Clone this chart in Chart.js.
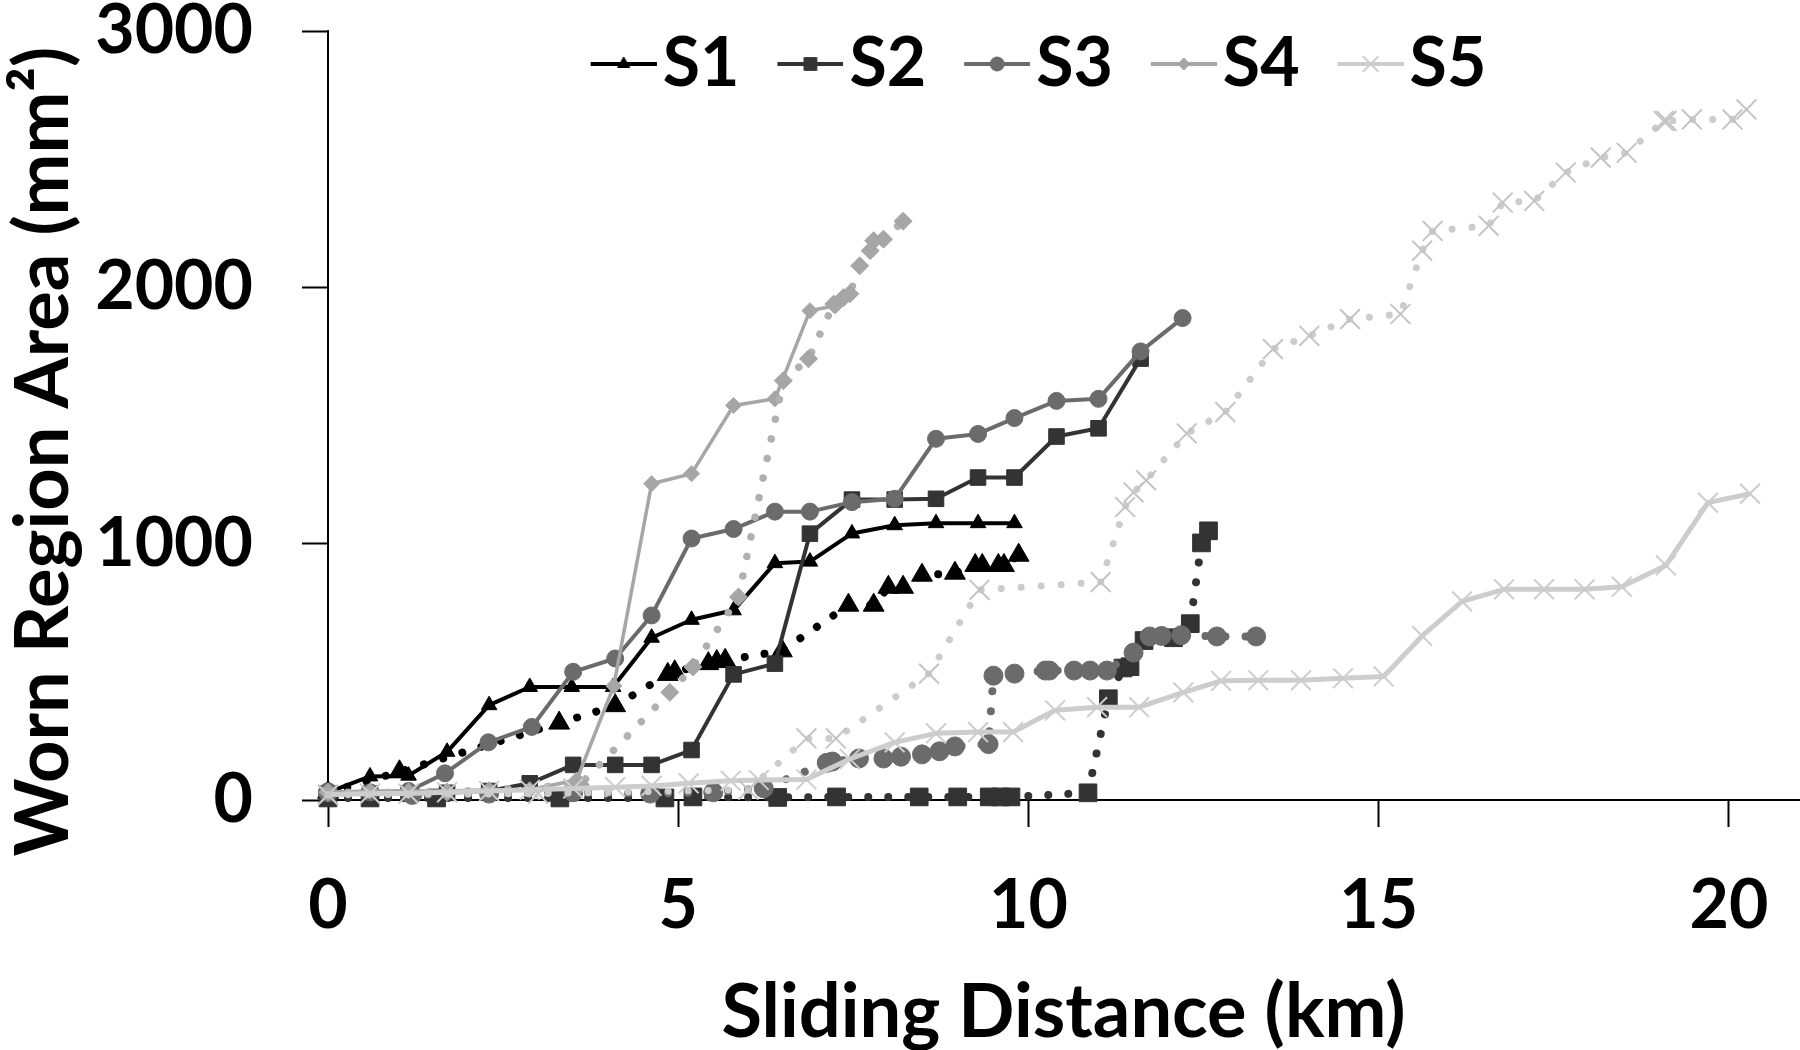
<!DOCTYPE html>
<html>
<head>
<meta charset="utf-8">
<script src="https://cdn.jsdelivr.net/npm/chart.js@4.4.0/dist/chart.umd.min.js"></script>
<style>
  html, body { margin: 0; padding: 0; background: #fff; }
</style>
</head>
<body>
<canvas id="myChart" width="1800" height="1050"></canvas>
<script>
// values (km, mm2)
var s1X = [0, 0.6, 1.15, 1.7, 2.3, 2.88, 3.48, 4.07, 4.62, 5.19, 5.79, 6.38, 6.88, 7.48, 8.09, 8.68, 9.28, 9.8];
var s1Y = [30, 92, 95, 188, 370, 441, 441, 441, 633, 703, 740, 924, 930, 1040, 1072, 1080, 1080, 1080];
var s1dX = [0, 1.02, 3.3, 4.1, 4.85, 4.95, 5.43, 5.55, 5.67, 6.48, 7.43, 7.79, 8.0, 8.21, 8.48, 8.95, 9.24, 9.34, 9.57, 9.65, 9.86];
var s1dY = [30, 110, 300, 368, 490, 500, 532, 540, 545, 582, 760, 760, 830, 830, 877, 885, 915, 915, 915, 915, 955];

var s2X = [0, 0.6, 1.15, 1.7, 2.3, 2.88, 3.5, 4.1, 4.62, 5.19, 5.79, 6.38, 6.88, 7.48, 8.09, 8.68, 9.28, 9.8, 10.4, 11.0, 11.6];
var s2Y = [25, 25, 25, 28, 35, 65, 137, 137, 137, 195, 490, 532, 1039, 1172, 1172, 1175, 1258, 1258, 1418, 1450, 1722];
var s2dX = [0, 0.6, 1.55, 3.31, 4.81, 5.21, 6.42, 7.26, 8.44, 8.99, 9.44, 9.6, 9.75, 10.85, 11.14, 11.35, 11.45, 11.65, 12.07, 12.31, 12.47, 12.57];
var s2dY = [8, 8, 8, 8, 8, 12, 10, 12, 12, 12, 12, 12, 12, 28, 395, 515, 520, 622, 633, 688, 1003, 1050];

var s3X = [0, 0.6, 1.15, 1.67, 2.29, 2.91, 3.5, 4.1, 4.62, 5.19, 5.79, 6.38, 6.88, 7.48, 8.09, 8.68, 9.28, 9.8, 10.4, 11.0, 11.6, 12.2];
var s3Y = [30, 30, 35, 104, 225, 285, 500, 552, 720, 1020, 1057, 1125, 1125, 1162, 1175, 1409, 1428, 1490, 1557, 1565, 1750, 1880];
var s3dX = [0, 1.2, 2.3, 3.5, 4.6, 5.5, 6.22, 7.12, 7.2, 7.58, 7.93, 8.18, 8.48, 8.73, 8.95, 9.43, 9.5, 9.8, 10.24, 10.3, 10.65, 10.88, 11.12, 11.5, 11.73, 11.9, 12.18, 12.69, 13.25];
var s3dY = [30, 20, 25, 30, 25, 30, 46, 145, 150, 162, 162, 169, 178, 190, 209, 218, 485, 493, 505, 505, 505, 505, 505, 575, 638, 640, 643, 638, 638];

var s4X = [0, 0.6, 1.15, 1.7, 2.3, 2.88, 3.55, 4.08, 4.62, 5.19, 5.79, 6.38, 6.88, 7.24, 7.36, 7.45];
var s4Y = [30, 35, 35, 35, 40, 40, 78, 445, 1234, 1273, 1539, 1565, 1909, 1928, 1961, 1974];
var s4dX = [0, 1.7, 3.6, 4.88, 5.21, 5.86, 6.5, 6.86, 7.22, 7.36, 7.45, 7.59, 7.74, 7.79, 7.93, 8.21];
var s4dY = [30, 30, 60, 420, 519, 792, 1636, 1721, 1935, 1960, 1975, 2084, 2143, 2182, 2188, 2258];

var s5X = [0, 0.6, 1.15, 1.7, 2.3, 2.88, 3.5, 4.1, 4.62, 5.15, 5.75, 6.15, 6.83, 7.45, 8.09, 8.68, 9.28, 9.78, 10.38, 10.98, 11.58, 12.21, 12.75, 13.28, 13.89, 14.49, 15.07, 15.62, 16.19, 16.79, 17.36, 17.94, 18.47, 19.1, 19.7, 20.3];
var s5Y = [20, 25, 25, 30, 35, 40, 45, 50, 55, 65, 75, 78, 80, 160, 225, 260, 265, 265, 350, 362, 362, 420, 465, 467, 467, 475, 482, 640, 775, 822, 822, 822, 832, 915, 1160, 1195];
var s5dX = [0, 3.0, 6.0, 6.83, 7.25, 8.58, 9.3, 11.03, 11.38, 11.5, 11.68, 12.26, 12.81, 13.49, 14.01, 14.59, 15.31, 15.62, 15.77, 16.57, 16.77, 17.22, 17.67, 18.17, 18.54, 19.07, 19.11, 19.47, 20.05, 20.25];
var s5dY = [20, 25, 40, 240, 240, 493, 820, 850, 1143, 1200, 1247, 1430, 1513, 1759, 1811, 1876, 1896, 2143, 2220, 2240, 2331, 2337, 2448, 2506, 2525, 2649, 2649, 2655, 2655, 2694];

var legendNames = ["S1", "S2", "S3", "S4", "S5"];
var xTicks = [0, 5, 10, 15, 20];
var yTicks = [0, 1000, 2000, 3000];

var fontFam = "Lato, 'Open Sans', sans-serif";
Chart.defaults.font.family = fontFam;
Chart.defaults.font.weight = "bold";
Chart.defaults.color = "#000";

function pts(xs, ys) {
    return xs.map(function (x, i) { return { x: x, y: ys[i] }; });
}

function solid(xs, ys, color, style, radius, width) {
    return {
        label: "",
        data: pts(xs, ys),
        showLine: true,
        borderColor: color,
        backgroundColor: color,
        borderWidth: width,
        borderJoinStyle: "round",
        pointStyle: style,
        pointRadius: radius,
        pointBackgroundColor: color,
        pointBorderColor: color,
        pointBorderWidth: style === "crossRot" ? 2 : 1,
        tension: 0,
        clip: false,
    };
}

function dotted(xs, ys, color, dotColor, style, radius, width) {
    var ds = solid(xs, ys, color, style, radius, width);
    ds.borderColor = dotColor;
    ds.borderDash = [0.01, 20];
    ds.borderCapStyle = "round";
    return ds;
}

var S1 = "#000000", S2 = "#333333", S3 = "#6b6b6b", S4 = "#a6a6a6", S5 = "#cdcdcd";

var datasets = [
    solid(s1X, s1Y, S1, "triangle", 9, 4),
    dotted(s1dX, s1dY, S1, S1, "triangle", 12, 8),
    solid(s2X, s2Y, S2, "rect", 11, 4),
    dotted(s2dX, s2dY, S2, S2, "rect", 12.5, 8),
    solid(s3X, s3Y, S3, "circle", 8.5, 4),
    dotted(s3dX, s3dY, S3, S3, "circle", 9.5, 8),
    solid(s4X, s4Y, S4, "rectRot", 8, 3.5),
    dotted(s4dX, s4dY, S4, "#b0b0b0", "rectRot", 9, 7.5),
    solid(s5X, s5Y, S5, "crossRot", 14, 5),
    dotted(s5dX, s5dY, "#c4c4c4", "#cccccc", "crossRot", 14, 7),
];
datasets.forEach(function (ds, i) { ds.order = datasets.length - i; });

// legend icons: short line with the marker on it
var iconSpec = [
    [S1, "triangle", 7],
    [S2, "rect", 9],
    [S3, "circle", 7],
    [S4, "rectRot", 6],
    [S5, "crossRot", 11],
];
var legendIcons = iconSpec.map(function (s) {
    var c = document.createElement("canvas");
    c.width = 132;
    c.height = 40;
    var g = c.getContext("2d");
    g.strokeStyle = s[0];
    g.fillStyle = s[0];
    g.lineWidth = 4;
    g.beginPath();
    g.moveTo(66, 20);
    g.lineTo(132, 20);
    g.stroke();
    g.lineWidth = s[1] === "crossRot" ? 2 : 1;
    Chart.helpers.drawPoint(g, { pointStyle: s[1], radius: s[2], borderWidth: g.lineWidth }, 99, 20);
    return c;
});

var legendNudge = {
    id: "legendNudge",
    afterLayout: function (chart) {
        var lg = chart.legend;
        lg.left -= 44;
        lg.right -= 44;
        lg.bottom = lg.top + 90;
    },
};

function noPad(scale) {
    scale.paddingTop = 0;
    scale.paddingBottom = 0;
    scale.paddingLeft = 0;
    scale.paddingRight = 0;
}

var ctx = document.getElementById("myChart").getContext("2d");
var myChart = new Chart(ctx, {
    type: "scatter",
    data: { datasets: datasets },
    plugins: [legendNudge],
    options: {
        responsive: false,
        animation: false,
        devicePixelRatio: 1,
        events: [],
        layout: {
            padding: { top: 30, right: 1, left: 0, bottom: 0 },
            autoPadding: false,
        },
        plugins: {
            tooltip: { enabled: false },
            legend: {
                position: "top",
                fullSize: false,
                align: "center",
                maxHeight: 1,
                labels: {
                    usePointStyle: true,
                    pointStyleWidth: 76,
                    boxHeight: 40,
                    padding: 0,
                    color: "#000",
                    font: { size: 68, weight: "bold", family: fontFam },
                    generateLabels: function () {
                        return legendNames.map(function (name, i) {
                            return {
                                text: name,
                                pointStyle: legendIcons[i],
                                datasetIndex: i * 2,
                                hidden: false,
                                lineWidth: 0,
                                fillStyle: "rgba(0,0,0,0)",
                                strokeStyle: "rgba(0,0,0,0)",
                                fontColor: "#000",
                            };
                        });
                    },
                },
            },
        },
        scales: {
            x: {
                type: "linear",
                min: 0,
                max: 21,
                afterBuildTicks: function (scale) {
                    scale.ticks = xTicks.map(function (v) { return { value: v }; });
                },
                ticks: {
                    stepSize: 5,
                    includeBounds: false,
                    padding: 38,
                    maxRotation: 0,
                    color: "#000",
                    font: { size: 68, weight: "bold" },
                    callback: function (v) { return String(v); },
                },
                grid: { drawOnChartArea: false, drawTicks: true, tickLength: 27, tickColor: "#000", tickWidth: 2 },
                border: { display: true, color: "#000", width: 2 },
                title: {
                    display: true,
                    text: "Sliding Distance (km)",
                    color: "#000",
                    font: { size: 74, weight: "bold", lineHeight: 1.0 },
                    padding: { top: 0, bottom: 0 },
                },
                afterFit: function (scale) {
                    scale.height = 250;
                    noPad(scale);
                },
            },
            y: {
                type: "linear",
                min: 0,
                max: 3000,
                afterBuildTicks: function (scale) {
                    scale.ticks = yTicks.map(function (v) { return { value: v }; });
                },
                ticks: {
                    stepSize: 1000,
                    padding: 49,
                    color: "#000",
                    font: { size: 68, weight: "bold" },
                    callback: function (v) { return String(v); },
                },
                grid: { drawOnChartArea: false, drawTicks: true, tickLength: 26, tickColor: "#000", tickWidth: 2 },
                border: { display: true, color: "#000", width: 2 },
                title: {
                    display: true,
                    // trailing spaces push the centred title down, as in the original
                    text: "Worn Region Area (mm²)    ",
                    color: "#000",
                    font: { size: 74, weight: "bold", lineHeight: 1.0 },
                    padding: { top: 7, bottom: 0 },
                },
                afterFit: function (scale) {
                    scale.width = 328;
                    noPad(scale);
                },
            },
        },
    },
});
</script>
</body>
</html>
